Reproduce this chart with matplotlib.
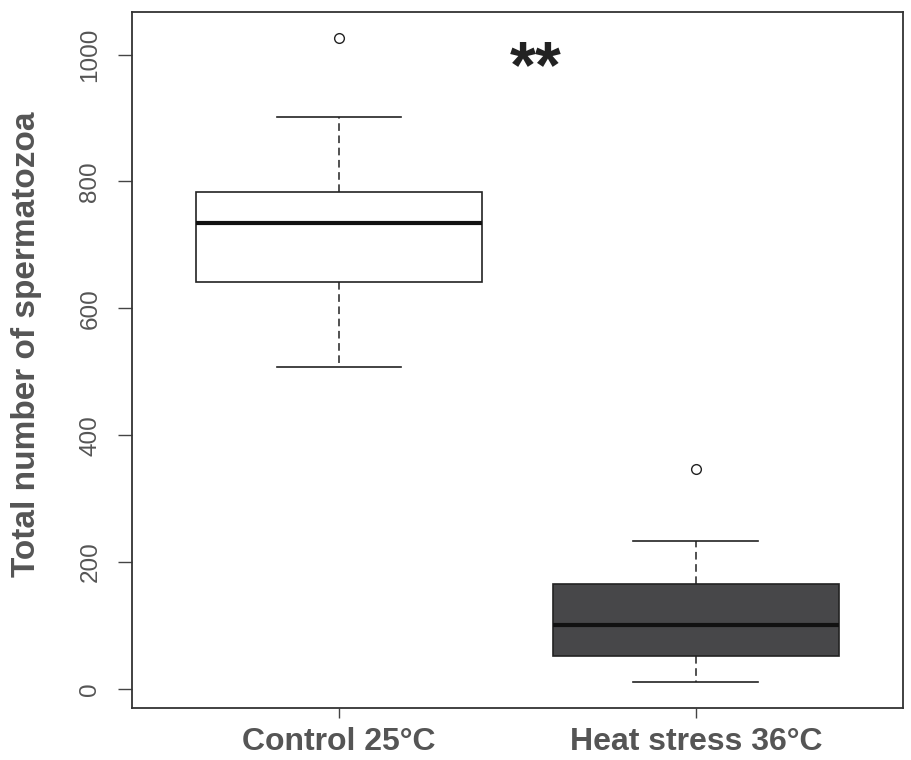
import matplotlib
matplotlib.use('Agg')
import matplotlib.pyplot as plt

# Box statistics
groups = ['Control 25°C', 'Heat stress 36°C']
whisker_low = [507, 11]
q1 = [642, 52]
medians = [735, 101]
q3 = [784, 166]
whisker_high = [901, 234]
outliers = [[1026], [347]]
box_colors = ['white', '#474749']
y_ticks = [0, 200, 400, 600, 800, 1000]

plt.rcParams['font.family'] = ['Liberation Sans', 'DejaVu Sans']

fig = plt.figure(figsize=(9.11, 7.6), dpi=100)
ax = fig.add_axes([0.1449, 0.0684, 0.8463, 0.9158])

stats = []
for i, name in enumerate(groups):
    stats.append({'label': name, 'whislo': whisker_low[i], 'q1': q1[i], 'med': medians[i],
                  'q3': q3[i], 'whishi': whisker_high[i], 'fliers': outliers[i]})

bp = ax.bxp(stats, positions=[1, 2], widths=0.8, capwidths=0.35, patch_artist=True,
            boxprops=dict(edgecolor='#222222', linewidth=1.2),
            medianprops=dict(color='#111111', linewidth=3),
            whiskerprops=dict(color='#222222', linewidth=1.1, linestyle=(0, (5, 3))),
            capprops=dict(color='#222222', linewidth=1.2),
            flierprops=dict(marker='o', markersize=7, markerfacecolor='none',
                            markeredgecolor='#222222', markeredgewidth=1))
for patch, c in zip(bp['boxes'], box_colors):
    patch.set_facecolor(c)

ax.set_xlim(0.42, 2.58)
ax.set_ylim(-30, 1067)
ax.set_yticks(y_ticks)
ax.set_yticklabels([str(t) for t in y_ticks], rotation=90, va='center',
                   fontsize=17.5, color='#555555')
ax.set_xticks([1, 2])
ax.set_xticklabels(groups, fontsize=23, fontweight='bold', color='#555555')
ax.tick_params(axis='x', length=7, width=1, color='#444444', pad=7)
ax.tick_params(axis='y', length=10, width=1, color='#444444', pad=12)
for s in ax.spines.values():
    s.set_color('#333333')
    s.set_linewidth(1.3)

ax.set_ylabel('Total number of spermatozoa', fontsize=24, fontweight='bold', color='#555555')
ax.yaxis.set_label_coords(-0.117, 0.523)

ax.text(1.55, 975, '**', fontsize=48, fontweight='bold', color='#222222',
        ha='center', va='center')

fig.savefig('out.png', dpi=100)
